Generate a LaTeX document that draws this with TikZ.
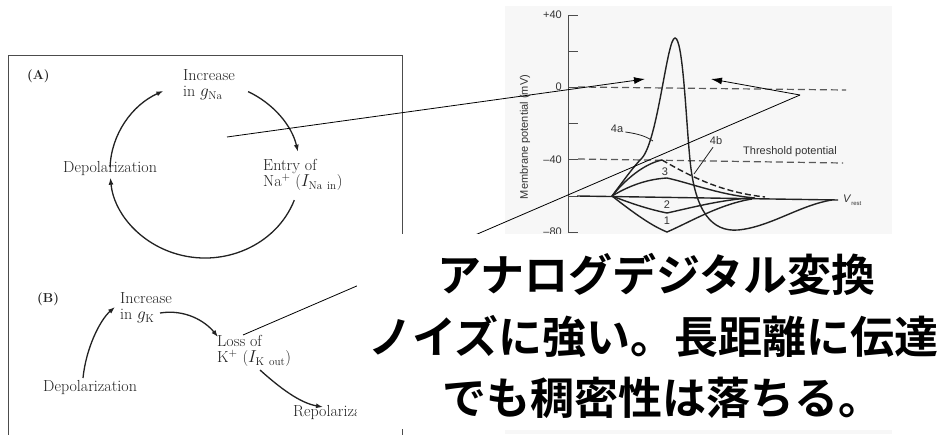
\documentclass[tikz,border=0pt]{standalone}
\usepackage{fontspec}
\setsansfont{Liberation Sans}
\newfontfamily\cjk[BoldFont={Noto Sans CJK JP Bold}]{Noto Sans CJK JP}
\usetikzlibrary{arrows.meta}
\definecolor{ink}{HTML}{222222}
\definecolor{plotbg}{HTML}{F7F7F7}
\tikzset{
  fig/.style={font=\fontsize{16}{16.5}\selectfont, text=ink, inner sep=0pt, align=left},
  figlab/.style={font=\bfseries\fontsize{13}{14}\selectfont, text=ink, inner sep=0pt, anchor=base west},
  cyc/.style={line width=1.3pt, draw=ink, -{Latex[length=7pt,width=5pt]}},
  curve/.style={line width=1.4pt, draw=ink},
  dashline/.style={line width=1.2pt, draw=black!65, dash pattern=on 7pt off 4pt},
  axisline/.style={line width=0.9pt, draw=black!70},
  lab/.style={font=\sffamily\fontsize{11}{12}\selectfont, text=black!80, inner sep=0pt},
  pointer/.style={line width=0.8pt, draw=black},
  ptip/.style={-{Latex[length=11pt,width=7pt]}},
  jp/.style={font=\cjk\bfseries\fontsize{44}{50}\selectfont, inner sep=0pt, anchor=base west},
}
\begin{document}
\begin{tikzpicture}[x=1pt,y=-1pt]
\useasboundingbox (0,0) rectangle (951,434);
\fill[white] (0,0) rectangle (951,434);

% ---------- left figure (A)/(B) ----------
\draw[line width=1pt, black!70] (8,440) -- (8,55) -- (402,55) -- (402,440);

\node[figlab] (labA) at (27,79) {(A)};
\node[fig, anchor=north west] (incNa) at (183,69) {Increase\\in $g_{\mathrm{Na}}$};
\node[fig, anchor=north west] (entry) at (263,159) {Entry of\\Na$^{+}$ ($I_{\mathrm{Na\ in}}$)};
\node[fig, anchor=base west] (depA) at (63,172) {Depolarization};

\coordinate (a1) at (110.06,166.93);
\coordinate (a2) at (248.1,91.6);
\coordinate (a3) at (294.3,200.1);
\draw[cyc] (a1) arc[start angle=182, end angle=244, x radius=95, y radius=88];
\draw[cyc] (a2) arc[start angle=297, end angle=348, x radius=95, y radius=88];
\draw[cyc] (a3) arc[start angle=20, end angle=175, x radius=95, y radius=88];

\node[figlab] (labB) at (37,302) {(B)};
\node[fig, anchor=north west] (incK) at (120,292) {Increase\\in $g_{\mathrm{K}}$};
\node[fig, anchor=north west] (loss) at (217,335) {Loss of\\K$^{+}$ ($I_{\mathrm{K\ out}}$)};
\node[fig, anchor=base west] (depB) at (43,391) {Depolarization};
\node[fig, anchor=base west] (repB) at (293,416) {Repolarization};

\coordinate (b1s) at (83,378);  \coordinate (b1e) at (115,307);
\coordinate (b2s) at (160,313); \coordinate (b2e) at (218,337);
\coordinate (b3s) at (260,370); \coordinate (b3e) at (323,407);
\draw[cyc] (b1s) .. controls (86,348) and (100,320) .. (b1e);
\draw[cyc] (b2s) .. controls (185,309) and (205,321) .. (b2e);
\draw[cyc] (b3s) .. controls (280,388) and (300,403) .. (b3e);

% ---------- graph ----------
\fill[plotbg] (505,6) rectangle (892,236);
\draw[axisline] (568,15) -- (568,232);
\foreach \yy in {15,51,87,123,159,196,232} \draw[axisline] (568,\yy) -- (578,\yy);
\node[lab, anchor=east] (t40) at (562,15) {+40};
\node[lab, anchor=east] (t0) at (562,87) {0};
\node[lab, anchor=east] (tm40) at (562,160) {\textendash40};
\node[lab, anchor=east] (tm80) at (562,232) {\textendash80};
\node[lab, rotate=90] (ylab) at (525,137) {Membrane potential (mV)};

\draw[dashline] (578,87) -- (846,90);
\draw[dashline] (578,159) -- (843,163);
\node[lab] (thr) at (790,152) {Threshold potential};

\draw[curve] (577,196) -- (838,200);
\node[lab, anchor=west] (vrest) at (843,200) {\textit{V}\raisebox{-2.5pt}{\fontsize{6}{6}\selectfont rest}};

\coordinate (S) at (612,196);
% curve 1
\draw[curve] (S) .. controls (635,214) and (652,226) .. (667,232)
  .. controls (690,222) and (720,204) .. (752,199);
% curve 2
\draw[curve] (S) .. controls (635,205) and (652,210) .. (667,213)
  .. controls (690,208) and (720,200) .. (750,198);
% curve 3
\draw[curve] (S) .. controls (632,184) and (650,179) .. (667,178)
  .. controls (690,183) and (720,195) .. (755,198);
% curve 4 (solid part) and 4b (dashed)
\draw[curve] (S) .. controls (630,174) and (648,163) .. (662,160);
\draw[curve, dash pattern=on 6pt off 3pt] (662,160) .. controls (690,176) and (720,192) .. (765,197);
% curve 4a (action potential)
\draw[curve] (S) .. controls (624,180) and (634,166) .. (642,158)
  .. controls (658,140) and (667,38) .. (675,38)
  .. controls (683,38) and (686,120) .. (690,160)
  .. controls (695,212) and (712,232) .. (738,230)
  .. controls (770,227) and (800,205) .. (832,200);

\node[lab] (n1) at (667,221) {1};
\node[lab] (n2) at (667,205) {2};
\node[lab] (n3) at (665,172) {3};
\node[lab] (n4a) at (617,129) {4a};
\node[lab] (n4b) at (716,141) {4b};
\draw[line width=0.8pt, ink] (n4a.east) ++(2,3) .. controls (640,134) and (647,137) .. (653,141);
\draw[line width=0.8pt, ink] (n4b.south) ++(-3,2) -- (694,174);

% ---------- pointers ----------
\coordinate (pA) at (227,137);
\coordinate (tipA) at (645,79);
\coordinate (hub) at (800,95);
\coordinate (tipB) at (711,79);
\coordinate (pB) at (243,335);
\draw[pointer, ptip] (pA) -- (tipA);
\draw[pointer, ptip] (hub) -- (tipB);
\draw[pointer] (hub) -- (pB);

% ---------- callout ----------
\fill[white] (357,234) rectangle (951,429);
\fill[plotbg] (505,430) rectangle (892,434);
\node[jp] (j1) at (437,291) {アナログデジタル変換};
\node[jp] (j2) at (368,353) {ノイズに強い。長距離に伝達};
\node[jp] (j3) at (442,414) {でも稠密性は落ちる。};
\end{tikzpicture}
\end{document}
